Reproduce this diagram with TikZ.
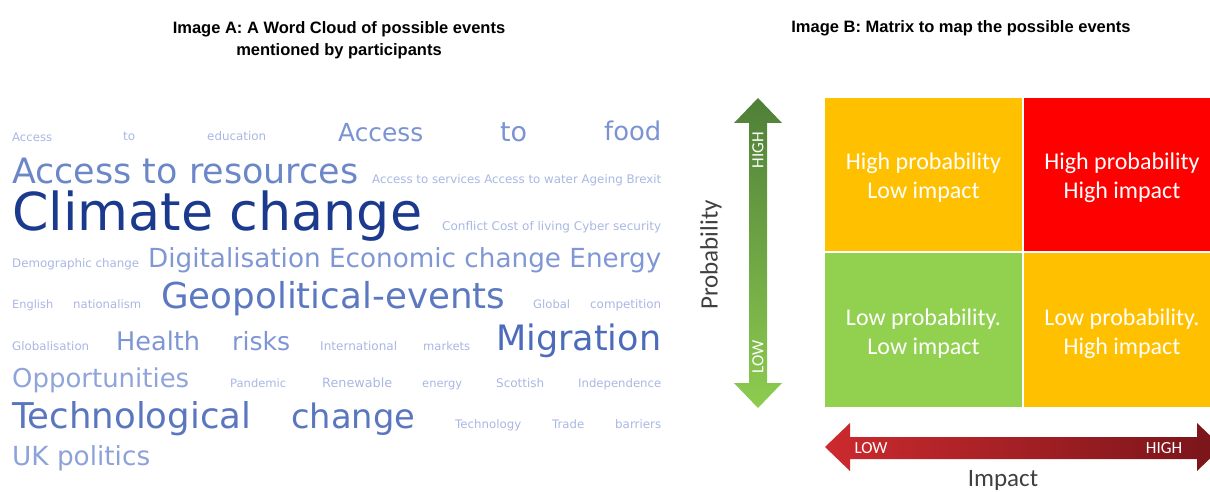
\documentclass[tikz,border=0pt]{standalone}
\usepackage{fontspec}
\setmainfont{Liberation Sans}
\newfontfamily\cloudfont{DejaVu Sans}
\newfontfamily\calfont{Carlito}
\usepackage{graphicx}

% word cloud shades
\definecolor{cwsmall}{HTML}{A9B7E3}
\definecolor{cwfood}{HTML}{7A93D2}
\definecolor{cwres}{HTML}{6C87C8}
\definecolor{cwclimate}{HTML}{1B3A8E}
\definecolor{cwmid}{HTML}{7F97D4}
\definecolor{cwgeo}{HTML}{5B78C1}
\definecolor{cwhealth}{HTML}{7E96D4}
\definecolor{cwmig}{HTML}{4D6BBB}
\definecolor{cwopp}{HTML}{8FA4DA}
\definecolor{cwtech}{HTML}{5A76BF}
\definecolor{cwuk}{HTML}{8DA2D9}
% matrix colours
\definecolor{mxorange}{HTML}{FFC000}
\definecolor{mxred}{HTML}{FF0000}
\definecolor{mxgreen}{HTML}{92D050}
\definecolor{greentop}{HTML}{4F7F38}
\definecolor{greenbot}{HTML}{8ECC50}
\definecolor{redleft}{HTML}{CC2A2E}
\definecolor{redright}{HTML}{78151A}
\definecolor{axisgrey}{HTML}{404040}

\tikzset{
  title/.style={inner sep=0pt, font=\fontsize{16.5}{22}\selectfont\bfseries, align=center},
  cloud word/.style={anchor=base west, inner sep=0pt, font=\cloudfont},
  cell/.style={inner sep=0pt, draw=none},
  cell text/.style={inner sep=0pt, text=white, align=center,
    font=\calfont\fontsize{24}{29}\selectfont},
  axis label/.style={inner sep=0pt, text=axisgrey, font=\calfont\fontsize{25}{30}\selectfont},
  arrow label/.style={inner sep=0pt, text=white, font=\calfont\fontsize{17}{20}\selectfont},
}

% one word (or run of words) of the cloud, stretched to a given width
\newcommand\cw[5]{\node[cloud word,text=#4] (#1) at (#2) {\resizebox{#3pt}{!}{#5}};}

\begin{document}
\begin{tikzpicture}[x=1pt,y=-1pt]
\useasboundingbox (0,0) rectangle (1210,492);
\clip (0,0) rectangle (1210,492);

% headings
\node[title] (titleA) at (339,40.5) {Image A: A Word Cloud of possible events\\mentioned by participants};
\node[title, anchor=base] (titleB) at (961,33) {Image B: Matrix to map the possible events};

% word cloud
\cw{w01}{12,141}{40}{cwsmall}{Access}
\cw{w02}{123,141}{12}{cwsmall}{to}
\cw{w03}{207,141}{59}{cwsmall}{education}
\cw{w04}{338,141}{85}{cwfood}{Access}
\cw{w05}{500,141}{27}{cwfood}{to}
\cw{w06}{604,141}{57}{cwfood}{food}

\cw{w07}{12,183}{346}{cwres}{Access to resources}
\cw{w08}{372,183}{289}{cwsmall}{Access to services Access to water Ageing Brexit}

\cw{w09}{12,230}{410}{cwclimate}{Climate change}
\cw{w10}{442,230}{219}{cwsmall}{Conflict Cost of living Cyber security}

\cw{w11}{12,267}{127}{cwsmall}{Demographic change}
\cw{w12}{148,267}{513}{cwmid}{Digitalisation Economic change Energy}

\cw{w13}{12,308}{41}{cwsmall}{English}
\cw{w14}{73,308}{68}{cwsmall}{nationalism}
\cw{w15}{161,308}{344}{cwgeo}{Geopolitical-events}
\cw{w16}{533,308}{37}{cwsmall}{Global}
\cw{w17}{590,308}{71}{cwsmall}{competition}

\cw{w18}{12,350}{77}{cwsmall}{Globalisation}
\cw{w19}{116,350}{84}{cwhealth}{Health}
\cw{w20}{232,350}{58}{cwhealth}{risks}
\cw{w21}{320,350}{77}{cwsmall}{International}
\cw{w22}{423,350}{47}{cwsmall}{markets}
\cw{w23}{496,350}{165}{cwmig}{Migration}

\cw{w24}{12,387}{177}{cwopp}{Opportunities}
\cw{w25}{230,387}{56}{cwsmall}{Pandemic}
\cw{w26}{322,387}{70}{cwsmall}{Renewable}
\cw{w27}{422,387}{40}{cwsmall}{energy}
\cw{w28}{496,387}{48}{cwsmall}{Scottish}
\cw{w29}{578,387}{83}{cwsmall}{Independence}

\cw{w30}{12,428}{239}{cwtech}{Technological}
\cw{w31}{291,428}{124}{cwtech}{change}
\cw{w32}{455,428}{66}{cwsmall}{Technology}
\cw{w33}{552,428}{32}{cwsmall}{Trade}
\cw{w34}{615,428}{46}{cwsmall}{barriers}

\cw{w35}{12,465}{138}{cwuk}{UK politics}

% probability arrow
\shade[top color=greentop, bottom color=greenbot]
  (758,98) -- (782,123) -- (767,123) -- (767,383) -- (782,383) -- (758,408)
  -- (734,383) -- (749,383) -- (749,123) -- (734,123) -- cycle;
\node[arrow label, rotate=90] (probhigh) at (758,150) {HIGH};
\node[arrow label, rotate=90] (problow) at (758,357) {LOW};
\node[axis label, rotate=90] (prob) at (711,255) {Probability};

% risk matrix: four coloured cells, then their captions
\node[cell, fill=mxorange, minimum width=197pt, minimum height=153pt] (hplo) at (923.5,174.5) {};
\node[cell, fill=mxred, minimum width=196pt, minimum height=153pt] (hphi) at (1122,174.5) {};
\node[cell, fill=mxgreen, minimum width=197pt, minimum height=154pt] (lplo) at (923.5,330) {};
\node[cell, fill=mxorange, minimum width=196pt, minimum height=154pt] (lphi) at (1122,330) {};
\node[cell text] (hplotext) at (923.5,177.5) {High probability\\Low impact};
\node[cell text] (hphitext) at (1122,177.5) {High probability\\High impact};
\node[cell text] (lplotext) at (923.5,333.5) {Low probability.\\Low impact};
\node[cell text] (lphitext) at (1122,333.5) {Low probability.\\High impact};

% impact arrow
\shade[left color=redleft, right color=redright]
  (825,447) -- (850,423) -- (850,437) -- (1197,437) -- (1197,423) -- (1222,447)
  -- (1197,471) -- (1197,459) -- (850,459) -- (850,471) -- cycle;
\node[arrow label] (implow) at (871,448) {LOW};
\node[arrow label] (imphigh) at (1164,448) {HIGH};
\node[axis label, anchor=base] (impact) at (1003,486) {Impact};
\end{tikzpicture}
\end{document}
